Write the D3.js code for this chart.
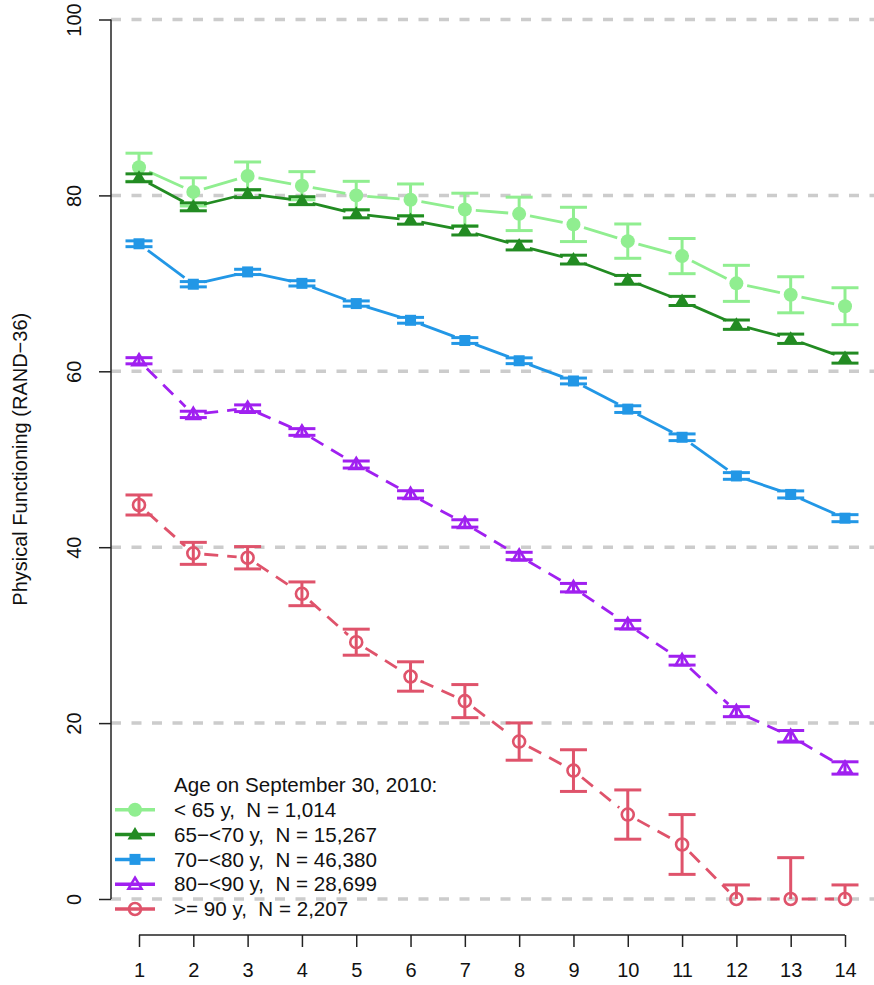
<!DOCTYPE html>
<html>
<head>
<meta charset="utf-8">
<script src="https://cdn.jsdelivr.net/npm/d3@7"></script>
<style>
  html, body { margin: 0; padding: 0; background: #fff; }
  svg { display: block; font-family: "Liberation Sans", Arial, Helvetica, sans-serif; }
  text { white-space: pre; }
</style>
</head>
<body>
<svg id="chart" width="874" height="985"></svg>
<script>
// ---------- data ----------
const years = [1, 2, 3, 4, 5, 6, 7, 8, 9, 10, 11, 12, 13, 14];
const yTicks = [0, 20, 40, 60, 80, 100];
const legendTitle = "Age on September 30, 2010:";
const seriesLabels = [
  "< 65 y,  N = 1,014",
  "65\u2212<70 y,  N = 15,267",
  "70\u2212<80 y,  N = 46,380",
  "80\u2212<90 y,  N = 28,699",
  ">= 90 y,  N = 2,207"
];
const yTitle = "Physical Functioning (RAND\u221236)";

const lt65Mean = [83.2, 80.4, 82.2, 81.1, 80.0, 79.5, 78.4, 77.9, 76.7, 74.8, 73.1, 70.0, 68.7, 67.4];
const lt65Ci   = [1.6, 1.6, 1.6, 1.6, 1.6, 1.8, 1.85, 1.9, 1.95, 1.95, 2.0, 2.05, 2.05, 2.1];
const a65Mean  = [82.0, 78.7, 80.2, 79.4, 77.9, 77.2, 76.0, 74.3, 72.7, 70.4, 68.0, 65.3, 63.7, 61.5];
const a65Ci    = [0.45, 0.45, 0.45, 0.45, 0.45, 0.47, 0.5, 0.5, 0.5, 0.5, 0.52, 0.53, 0.53, 0.57];
const a70Mean  = [74.5, 69.9, 71.3, 70.0, 67.7, 65.8, 63.5, 61.2, 58.9, 55.7, 52.5, 48.1, 46.0, 43.3];
const a70Ci    = [0.33, 0.3, 0.3, 0.3, 0.3, 0.33, 0.33, 0.33, 0.33, 0.38, 0.38, 0.38, 0.4, 0.4];
const a80Mean  = [61.2, 55.1, 55.8, 53.1, 49.4, 46.0, 42.7, 39.0, 35.4, 31.2, 27.1, 21.3, 18.5, 14.9];
const a80Ci    = [0.35, 0.36, 0.38, 0.38, 0.4, 0.42, 0.42, 0.42, 0.48, 0.48, 0.5, 0.57, 0.66, 0.7];
const a90Mean  = [44.8, 39.3, 38.8, 34.7, 29.2, 25.3, 22.5, 17.9, 14.6, 9.6, 6.2, 0.0, 0.0, 0.0];
const a90Ci    = [1.14, 1.25, 1.27, 1.35, 1.48, 1.67, 1.88, 2.12, 2.37, 2.8, 3.4, 1.6, 4.7, 1.6];

// ---------- styles ----------
const colors = ["#90EE90", "#228B22", "#2297E6", "#A020F0", "#DF536B"];
const shapes = ["circleFilled", "triangleFilled", "squareFilled", "triangleOpen", "circleOpen"];
const dashes = [null, null, null, "14,9", "14,9"];

const series = [
  { mean: lt65Mean, ci: lt65Ci },
  { mean: a65Mean,  ci: a65Ci },
  { mean: a70Mean,  ci: a70Ci },
  { mean: a80Mean,  ci: a80Ci },
  { mean: a90Mean,  ci: a90Ci }
].map((s, i) => ({ ...s, label: seriesLabels[i], color: colors[i], shape: shapes[i], dash: dashes[i] }));

// ---------- scales ----------
const svg = d3.select("#chart");
const x = d3.scaleLinear().domain([1, 14]).range([139, 845]);
const y = d3.scaleLinear().domain([0, 100]).range([899, 19.5]);
const plotLeft = 111, plotRight = 874;

// gridlines
svg.append("g").selectAll("line").data(yTicks).join("line")
  .attr("x1", plotLeft).attr("x2", plotRight)
  .attr("y1", d => y(d)).attr("y2", d => y(d))
  .attr("stroke", "#CCCCCC").attr("stroke-width", 3.5)
  .attr("stroke-dasharray", "10,10.5");

// y axis
const yAxis = svg.append("g").attr("transform", `translate(${plotLeft},0)`)
  .call(d3.axisLeft(y).tickValues(yTicks).tickSize(12).tickFormat(d3.format("d")));
yAxis.select(".domain").attr("d", `M-0,${y(0)}V${y(100)}`).attr("stroke", "#222").attr("stroke-width", 1.5);
yAxis.selectAll(".tick line").attr("stroke", "#222").attr("stroke-width", 1.5);
yAxis.selectAll(".tick text")
  .attr("font-size", 20).attr("fill", "#111")
  .attr("text-anchor", "middle")
  .attr("dy", null)
  .attr("transform", "translate(-37,0) rotate(-90)")
  .attr("x", 0).attr("y", 0).attr("dominant-baseline", "central");
yAxis.attr("font-family", null);

// x axis
const xAxis = svg.append("g").attr("transform", `translate(0,935)`)
  .call(d3.axisBottom(x).tickValues(years).tickSize(12).tickPadding(16).tickFormat(d3.format("d")));
xAxis.select(".domain").attr("d", `M${x(1)},0H${x(14)}`).attr("stroke", "#222").attr("stroke-width", 1.5);
xAxis.selectAll(".tick line").attr("stroke", "#222").attr("stroke-width", 1.5);
xAxis.selectAll(".tick text").attr("font-size", 20).attr("fill", "#111");
xAxis.attr("font-family", null);

// y title
svg.append("text")
  .attr("transform", `translate(27,${(y(0) + y(100)) / 2}) rotate(-90)`)
  .attr("text-anchor", "middle")
  .attr("font-size", 20).attr("fill", "#111")
  .text(yTitle);

// ---------- marker drawer ----------
function drawMarker(g, shape, color, cx, cy) {
  const sw = 2.6;
  if (shape === "circleFilled") {
    g.append("circle").attr("cx", cx).attr("cy", cy).attr("r", 7).attr("fill", color);
  } else if (shape === "circleOpen") {
    g.append("circle").attr("cx", cx).attr("cy", cy).attr("r", 6).attr("fill", "none")
      .attr("stroke", color).attr("stroke-width", sw);
  } else if (shape === "squareFilled") {
    g.append("rect").attr("x", cx - 5.5).attr("y", cy - 5.5).attr("width", 11).attr("height", 11).attr("fill", color);
  } else if (shape === "triangleFilled") {
    g.append("path").attr("d", `M${cx},${cy - 7.5}L${cx + 7.5},${cy + 5}L${cx - 7.5},${cy + 5}Z`).attr("fill", color);
  } else if (shape === "triangleOpen") {
    g.append("path").attr("d", `M${cx},${cy - 6.5}L${cx + 6.5},${cy + 4.5}L${cx - 6.5},${cy + 4.5}Z`)
      .attr("fill", "none").attr("stroke", color).attr("stroke-width", sw);
  }
}

// ---------- series ----------
const gap = 11; // gap around points (type = "b")
series.forEach(s => {
  const g = svg.append("g");
  const pts = years.map((yr, i) => ({ px: x(yr), py: y(s.mean[i]), i }));
  for (let i = 0; i < pts.length - 1; i++) {
    const a = pts[i], b = pts[i + 1];
    const dx = b.px - a.px, dy = b.py - a.py, L = Math.hypot(dx, dy);
    if (L <= 2 * gap) continue;
    const ux = dx / L, uy = dy / L;
    g.append("line")
      .attr("x1", a.px + ux * gap).attr("y1", a.py + uy * gap)
      .attr("x2", b.px - ux * gap).attr("y2", b.py - uy * gap)
      .attr("stroke", s.color).attr("stroke-width", 2.8)
      .attr("stroke-dasharray", s.dash);
  }
  pts.forEach(p => {
    const m = s.mean[p.i], c = s.ci[p.i];
    const lo = Math.max(0, m - c), hi = m + c;
    const capW = 13.5;
    g.append("line").attr("x1", p.px).attr("x2", p.px).attr("y1", y(lo)).attr("y2", y(hi))
      .attr("stroke", s.color).attr("stroke-width", 3);
    g.append("line").attr("x1", p.px - capW).attr("x2", p.px + capW).attr("y1", y(hi)).attr("y2", y(hi))
      .attr("stroke", s.color).attr("stroke-width", 3);
    if (lo < m) {
      g.append("line").attr("x1", p.px - capW).attr("x2", p.px + capW).attr("y1", y(lo)).attr("y2", y(lo))
        .attr("stroke", s.color).attr("stroke-width", 3);
    }
  });
  pts.forEach(p => drawMarker(g, s.shape, s.color, p.px, p.py));
});

// ---------- legend ----------
const leg = svg.append("g");
const legTextX = 174, legY0 = 785, legStep = 24.8;
leg.append("text").attr("x", legTextX).attr("y", legY0).attr("dy", "0.35em")
  .attr("font-size", 20.6).attr("fill", "#111").text(legendTitle);
series.forEach((s, i) => {
  const cy = legY0 + legStep * (i + 1);
  leg.append("line").attr("x1", 115).attr("x2", 155).attr("y1", cy).attr("y2", cy)
    .attr("stroke", s.color).attr("stroke-width", 3.5);
  drawMarker(leg, s.shape, s.color, 135, cy);
  leg.append("text").attr("x", legTextX).attr("y", cy).attr("dy", "0.35em")
    .attr("font-size", 20.6).attr("fill", "#111").text(s.label);
});
</script>
</body>
</html>
